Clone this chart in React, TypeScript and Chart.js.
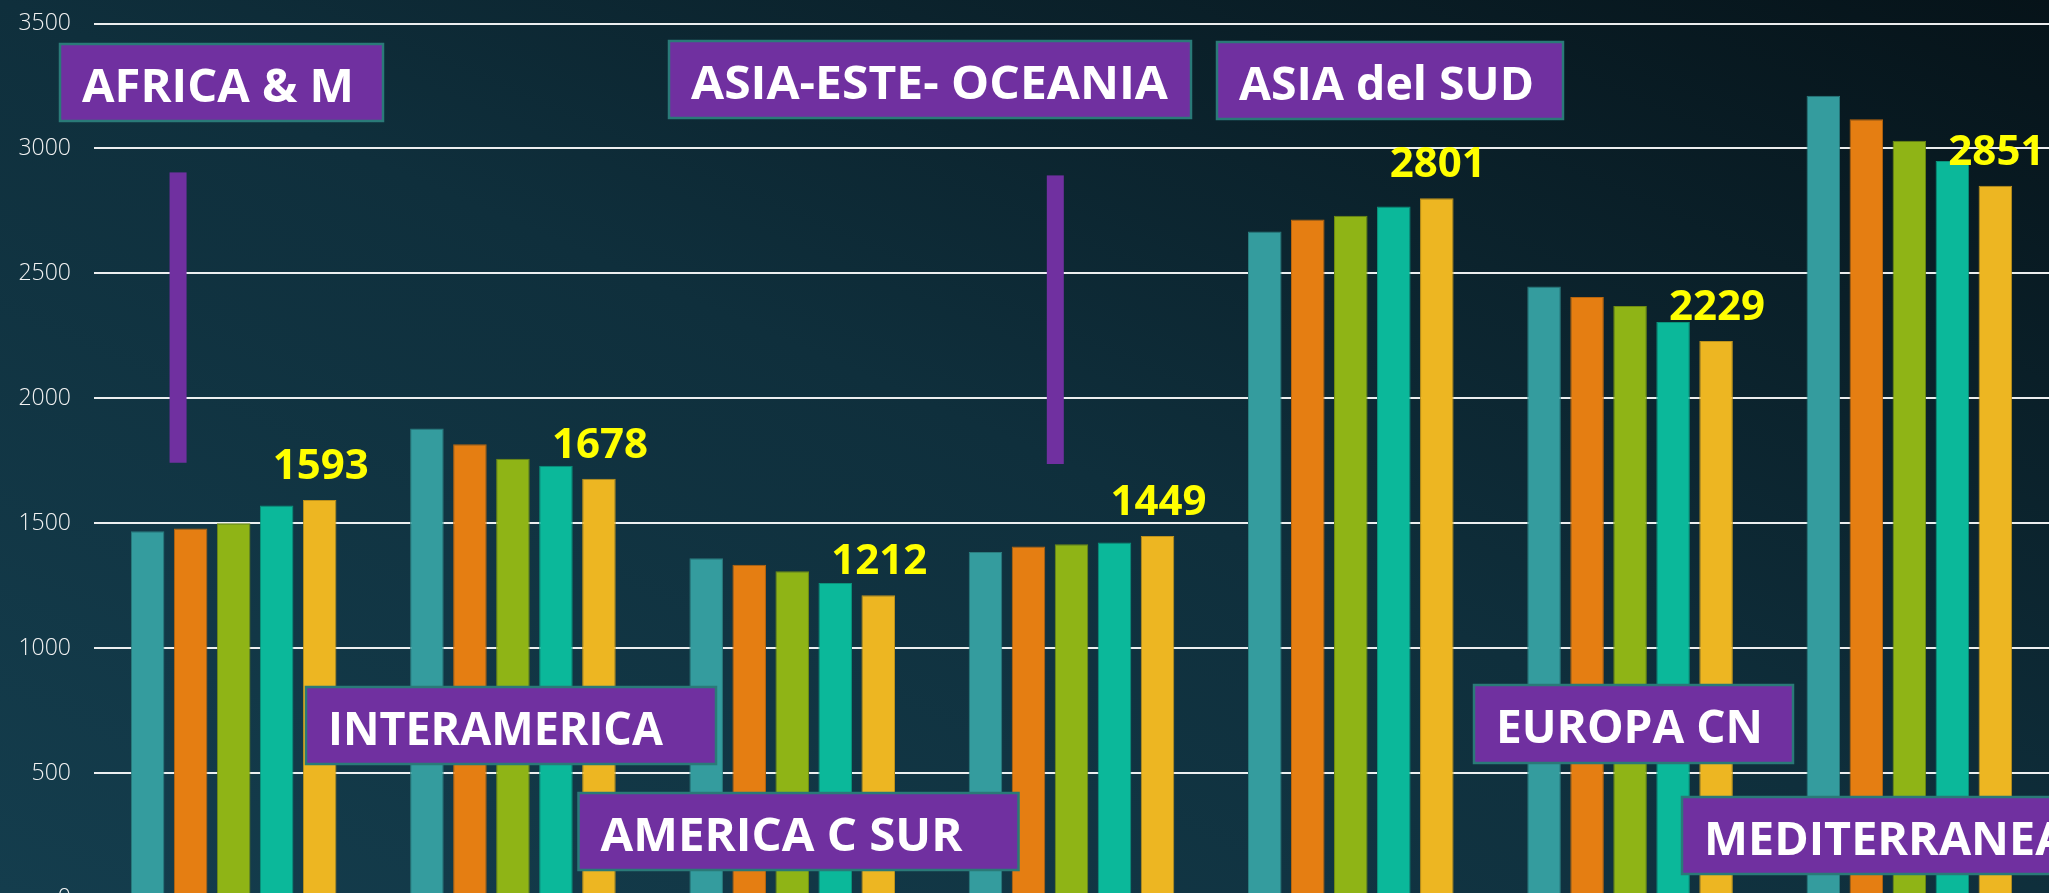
import React, { useEffect, useRef } from 'react';
import { Chart, registerables } from 'chart.js';

Chart.register(...registerables);

// ---------- data ----------
const CATEGORIES = [
  'AFRICA & M',
  'INTERAMERICA',
  'AMERICA C SUR',
  'ASIA-ESTE- OCEANIA',
  'ASIA del SUD',
  'EUROPA CN',
  'MEDITERRANEA',
];
const SERIES_NAMES = ['Serie 1', 'Serie 2', 'Serie 3', 'Serie 4', 'Serie 5'];
const SERIES_1 = [1468, 1879, 1360, 1385, 2668, 2447, 3211];
const SERIES_2 = [1479, 1816, 1334, 1407, 2716, 2405, 3117];
const SERIES_3 = [1500, 1758, 1308, 1416, 2731, 2369, 3031];
const SERIES_4 = [1571, 1730, 1261, 1423, 2768, 2305, 2950];
const SERIES_5 = [1593, 1678, 1212, 1449, 2801, 2229, 2851];
const Y_MIN = 0;
const Y_MAX = 3500;
const Y_STEP = 500;
// decorative purple markers: fractional category index, value range
const MARKER_AT = [-0.199, 2.942];
const MARKER_FROM = [1742, 1737];
const MARKER_TO = [2904, 2892];

// ---------- styles / layout ----------
const COLORS = ['#349C9E', '#E57E12', '#8FB416', '#0BB89A', '#EDB622'];
const BORDERS = ['#2A7C7E', '#B8650E', '#6F8C12', '#0A927B', '#BE921B'];
const LABEL_BOXES = [
  { x: 60, y: 44, w: 323, h: 77, tw: 272 },
  { x: 306, y: 687, w: 410, h: 77, tw: 335 },
  { x: 578.5, y: 793, w: 440, h: 77, tw: 362 },
  { x: 669, y: 41, w: 522, h: 77, tw: 477 },
  { x: 1217, y: 42, w: 346, h: 77, tw: 295 },
  { x: 1474, y: 685, w: 319, h: 78, tw: 267 },
  { x: 1682, y: 797, w: 420, h: 77, tw: 0 },
];
const BOX_FONT = 'bold 46px "Open Sans", Lato, sans-serif';

const annotationPlugin = {
  id: 'annotations',
  afterDatasetsDraw(chart: any) {
    const ctx = chart.ctx as CanvasRenderingContext2D;
    const xs = chart.scales.x;
    const ys = chart.scales.y;
    ctx.save();
    // purple markers
    ctx.fillStyle = '#7030A0';
    MARKER_AT.forEach((at, i) => {
      const cx = xs.getPixelForValue(at);
      const top = ys.getPixelForValue(MARKER_TO[i]);
      const bot = ys.getPixelForValue(MARKER_FROM[i]);
      ctx.fillRect(cx - 8.5, top, 17, bot - top);
    });
    // category label boxes
    ctx.font = BOX_FONT;
    const scales: number[] = [];
    LABEL_BOXES.forEach((b, i) => {
      if (b.tw) scales.push(b.tw / ctx.measureText(CATEGORIES[i]).width);
    });
    const avg = scales.reduce((a, c) => a + c, 0) / scales.length;
    LABEL_BOXES.forEach((b, i) => {
      ctx.fillStyle = '#7030A0';
      ctx.fillRect(b.x, b.y, b.w, b.h);
      ctx.strokeStyle = '#2A7A78';
      ctx.lineWidth = 2.5;
      ctx.strokeRect(b.x, b.y, b.w, b.h);
      const m = ctx.measureText(CATEGORIES[i]).width;
      const sx = b.tw ? b.tw / m : avg;
      ctx.save();
      ctx.translate(b.x + 22, b.y + 57.5);
      ctx.scale(sx, 1);
      ctx.fillStyle = '#FFFFFF';
      ctx.textAlign = 'left';
      ctx.textBaseline = 'alphabetic';
      ctx.fillText(CATEGORIES[i], 0, 0);
      ctx.restore();
    });
    // value labels on last series
    const last = chart.data.datasets.length - 1;
    const meta = chart.getDatasetMeta(last);
    ctx.font = 'bold 42px "Open Sans", Lato, sans-serif';
    ctx.fillStyle = '#FFFF00';
    ctx.textAlign = 'center';
    ctx.textBaseline = 'alphabetic';
    meta.data.forEach((bar: any, i: number) => {
      ctx.fillText(String(chart.data.datasets[last].data[i]), bar.x + 1, bar.y - 21);
    });
    ctx.restore();
  },
};

export default function App() {
  const ref = useRef<HTMLCanvasElement | null>(null);
  useEffect(() => {
    if (!ref.current) return;
    const all = [SERIES_1, SERIES_2, SERIES_3, SERIES_4, SERIES_5];
    const chart = new Chart(ref.current, {
      type: 'bar',
      data: {
        labels: CATEGORIES,
        datasets: all.map((d, i) => ({
          label: SERIES_NAMES[i],
          data: d,
          backgroundColor: COLORS[i],
          borderColor: BORDERS[i],
          borderWidth: 1,
          categoryPercentage: 0.77,
          barPercentage: 0.78,
        })),
      },
      options: {
        responsive: false,
        animation: false,
        devicePixelRatio: 1,
        layout: { padding: { top: 23.5, bottom: 32, left: 0, right: 0 } },
        plugins: { legend: { display: false }, tooltip: { enabled: false }, title: { display: false } },
        scales: {
          x: { display: false },
          y: {
            min: Y_MIN,
            max: Y_MAX,
            ticks: {
              stepSize: Y_STEP,
              padding: 23,
              color: '#F2F2F2',
              font: { family: '"Open Sans", Lato, sans-serif', size: 23, weight: '300' as any },
              callback: (v: any) => String(v),
            },
            grid: { color: 'rgba(255,255,255,0.92)', lineWidth: 2, drawTicks: false },
            border: { display: false },
            afterFit: (s: any) => {
              s.width = 94;
              s.paddingTop = 12;
              s.paddingBottom = 12;
            },
          },
        },
      },
      plugins: [annotationPlugin],
    });
    return () => chart.destroy();
  }, []);
  return (
    <div
      style={{
        position: 'fixed',
        left: 0,
        top: 0,
        width: 2049,
        height: 893,
        overflow: 'hidden',
        background: 'linear-gradient(to top right, #143d4d 0%, #0f2f3c 50%, #061319 100%)',
      }}
    >
      <canvas ref={ref} width={2049} height={930} style={{ display: 'block', width: 2049, height: 930 }} />
    </div>
  );
}
